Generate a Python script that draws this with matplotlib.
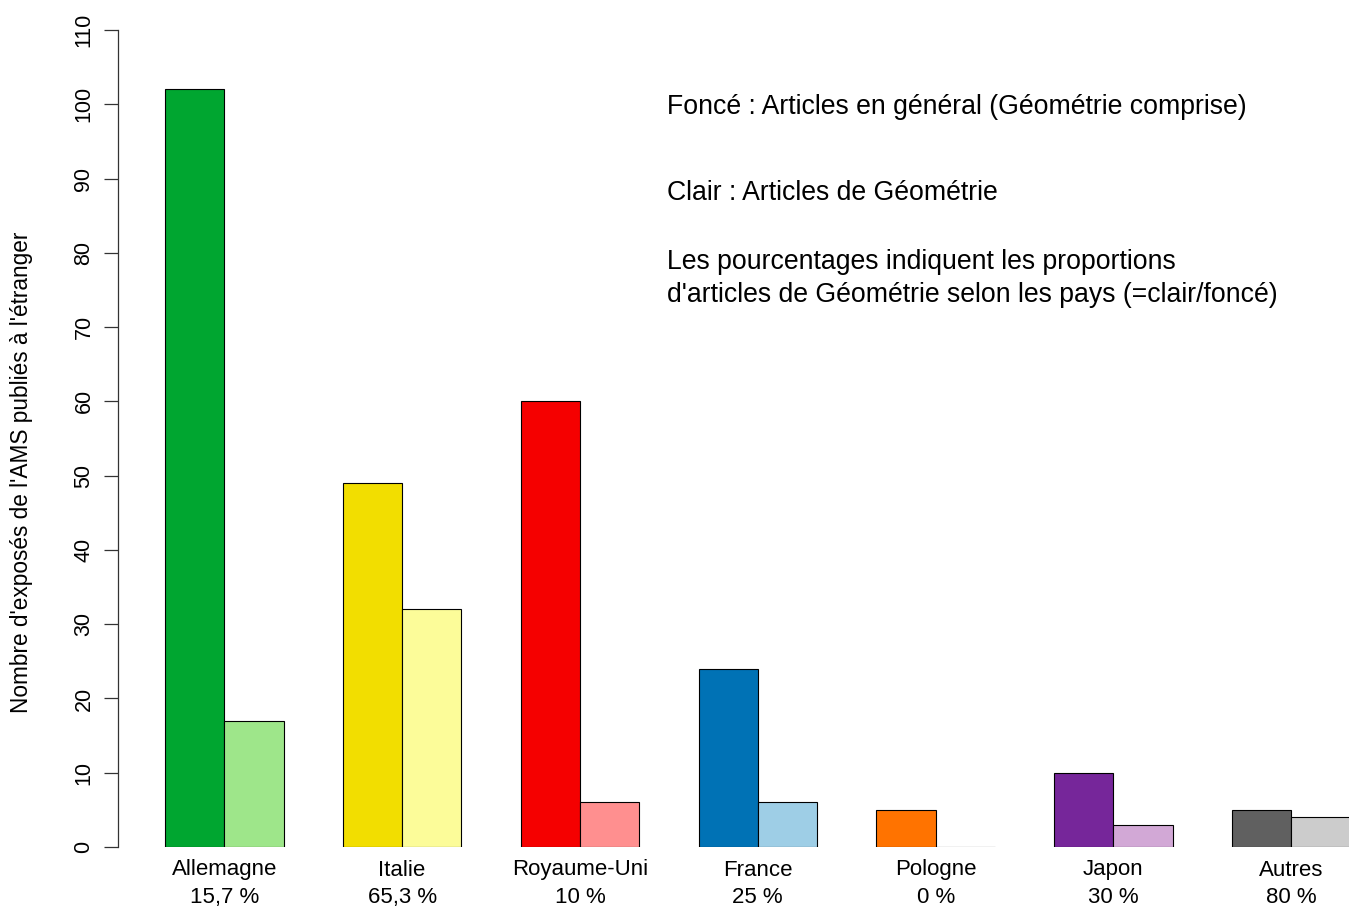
import matplotlib
matplotlib.use("Agg")
import matplotlib.pyplot as plt
import numpy as np

plt.rcParams['font.family'] = ['Liberation Sans', 'DejaVu Sans']

# Données : nombre d'exposés par pays
pays = ["Allemagne", "Italie", "Royaume-Uni", "France", "Pologne", "Japon", "Autres"]
pourcentages = ["15,7 %", "65,3 %", "10 %", "25 %", "0 %", "30 %", "80 %"]
fonce = [102, 49, 60, 24, 5, 10, 5]      # articles en général
clair = [17, 32, 6, 6, 0, 3, 4]          # articles de géométrie

couleurs_fonce = ["#00a630", "#f2de00", "#f50000", "#0072b5", "#ff7300", "#76269a", "#606060"]
couleurs_clair = ["#9ee68a", "#fcfc99", "#ff8f8f", "#9ecee6", "#ffc080", "#d2a8d6", "#cccccc"]

W, H = 1349, 909
fig = plt.figure(figsize=(W / 100, H / 100), dpi=100)
ax = fig.add_axes([118 / W, (H - 847) / H, 1 - 118 / W, (847 - 30) / H])

# barplot façon R : largeur 1, espace 1 entre groupes
x = 1 + 3 * np.arange(len(pays))
ax.bar(x, fonce, width=1, align='edge', color=couleurs_fonce, edgecolor='black', linewidth=0.8)
ax.bar(x + 1, clair, width=1, align='edge', color=couleurs_clair, edgecolor='black', linewidth=0.8)

u = 59.28   # pixels par unité
x0 = 165 - u
ax.set_xlim((118 - x0) / u, (W - x0) / u)
ax.set_ylim(0, 110)

for s in ['top', 'right', 'bottom']:
    ax.spines[s].set_visible(False)
ax.spines['left'].set_color('#333333')
ax.spines['left'].set_linewidth(0.9)

ax.set_yticks(np.arange(0, 111, 10))
ax.tick_params(axis='y', length=10, width=0.9, color='#333333', pad=7, labelsize=15.5)
for lab in ax.get_yticklabels():
    lab.set_rotation(90)
    lab.set_va('center')

ax.set_xticks(x + 1)
ax.set_xticklabels([p + "\n" + q for p, q in zip(pays, pourcentages)], fontsize=16, linespacing=1.4)
ax.tick_params(axis='x', length=0, pad=9)

fig.text(22 / W, 1 - 472 / H, "Nombre d'exposés de l'AMS publiés à l'étranger",
         rotation=90, ha='center', va='center', fontsize=16.3)

fs = 19.2
fig.text(667 / W, 1 - 107 / H, "Foncé : Articles en général (Géométrie comprise)", fontsize=fs, va='center')
fig.text(667 / W, 1 - 193 / H, "Clair : Articles de Géométrie", fontsize=fs, va='center')
fig.text(667 / W, 1 - 262 / H, "Les pourcentages indiquent les proportions", fontsize=fs, va='center')
fig.text(667 / W, 1 - 295 / H, "d'articles de Géométrie selon les pays (=clair/foncé)", fontsize=fs, va='center')

fig.savefig("out.png", dpi=100)
